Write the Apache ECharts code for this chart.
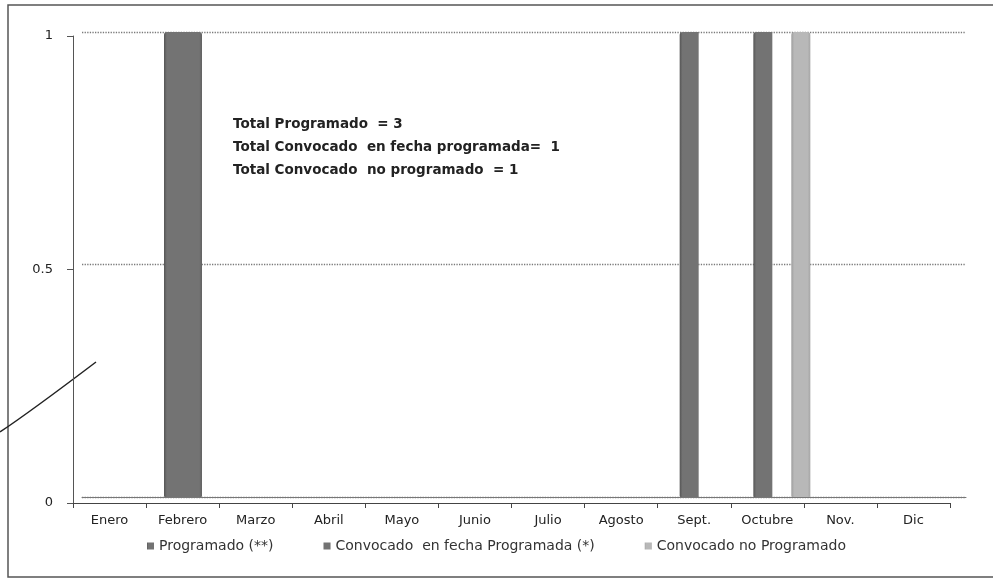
<!DOCTYPE html>
<html>
<head>
<meta charset="utf-8">
<script src="https://cdn.jsdelivr.net/npm/echarts@6/dist/echarts.min.js"></script>
<style>
    html, body { margin: 0; padding: 0; background: #fff; }
    #chart { width: 993px; height: 579px; }
</style>
</head>
<body>
<div id="chart"></div>
<script>
    // datos
    var meses = ['Enero', 'Febrero', 'Marzo', 'Abril', 'Mayo', 'Junio', 'Julio', 'Agosto', 'Sept.', 'Octubre', 'Nov.', 'Dic'];
    var programado = [0, 1, 0, 0, 0, 0, 0, 0, 1, 1, 0, 0];
    var convocadoFecha = [0, 1, 0, 0, 0, 0, 0, 0, 0, 0, 0, 0];
    var convocadoNo = [0, 0, 0, 0, 0, 0, 0, 0, 0, 1, 0, 0];
    var yTicks = [0, 0.5, 1];

    var nombres = ['Programado (**)', 'Convocado  en fecha Programada (*)', 'Convocado no Programado'];
    var totales = 'Total Programado  = 3\nTotal Convocado  en fecha programada=  1\nTotal Convocado  no programado  = 1';

    var myChart = echarts.init(document.getElementById('chart'));

    function barra(c1, c2, c3, radio) {
        return {
            color: new echarts.graphic.LinearGradient(0, 0, 1, 0, [
                { offset: 0, color: c1 },
                { offset: 0.15, color: c2 },
                { offset: 0.85, color: c2 },
                { offset: 1, color: c3 }
            ]),
            borderRadius: radio
        };
    }

    var option = {
        backgroundColor: '#fff',
        animation: false,
        grid: [
            // ejes frontales
            { left: 73, right: 43, top: 36, bottom: 76 },
            // pared del fondo y barras
            { left: 82, right: 27, top: 32, bottom: 82 }
        ],
        legend: {
            bottom: 21,
            left: 'center',
            icon: 'rect',
            itemWidth: 7,
            itemHeight: 7,
            itemGap: 50,
            textStyle: { fontFamily: 'DejaVu Sans', fontSize: 14, color: '#333' },
            data: nombres
        },
        xAxis: [
            {
                type: 'category',
                gridIndex: 0,
                data: meses,
                axisLine: { lineStyle: { color: '#444', width: 1 } },
                axisTick: { show: true, length: 5, lineStyle: { color: '#444' } },
                axisLabel: { margin: 11, fontFamily: 'DejaVu Sans', fontSize: 13, color: '#222' }
            },
            {
                type: 'category',
                gridIndex: 1,
                data: meses,
                axisLine: { lineStyle: { color: '#777', width: 1 } },
                axisTick: { show: false },
                axisLabel: { show: false }
            }
        ],
        yAxis: [
            {
                type: 'value',
                gridIndex: 0,
                min: 0,
                max: 1,
                interval: 0.5,
                axisLine: { show: true, lineStyle: { color: '#555' } },
                axisTick: { show: true, length: 6, lineStyle: { color: '#555' } },
                splitLine: { show: false },
                axisLabel: {
                    margin: 20,
                    fontFamily: 'DejaVu Sans',
                    fontSize: 13,
                    color: '#222',
                    formatter: function (v) { return yTicks.indexOf(v) >= 0 ? String(v) : ''; }
                }
            },
            {
                type: 'value',
                gridIndex: 1,
                min: 0,
                max: 1,
                interval: 0.5,
                axisLine: { show: false },
                axisTick: { show: false },
                axisLabel: { show: false },
                splitLine: { show: true, lineStyle: { color: '#7a7a7a', width: 1.3, type: 'dotted' } }
            }
        ],
        series: [
            {
                name: nombres[0],
                type: 'bar',
                xAxisIndex: 1,
                yAxisIndex: 1,
                barWidth: 19,
                barGap: '0%',
                itemStyle: barra('#555555', '#737373', '#737373', [3, 0, 0, 1]),
                data: programado
            },
            {
                name: nombres[1],
                type: 'bar',
                xAxisIndex: 1,
                yAxisIndex: 1,
                barWidth: 19,
                barGap: '0%',
                itemStyle: barra('#737373', '#737373', '#626262', [0, 3, 1, 0]),
                data: convocadoFecha
            },
            {
                name: nombres[2],
                type: 'bar',
                xAxisIndex: 1,
                yAxisIndex: 1,
                barWidth: 19,
                barGap: '0%',
                itemStyle: barra('#9c9c9c', '#b8b8b8', '#a6a6a6', [3, 3, 1, 1]),
                data: convocadoNo
            }
        ],
        graphic: [
            {
                type: 'rect',
                silent: true,
                shape: { x: 8, y: 5, width: 1000, height: 572 },
                style: { fill: null, stroke: '#555', lineWidth: 1.5 }
            },
            {
                type: 'bezierCurve',
                silent: true,
                shape: { x1: 0, y1: 432, x2: 96, y2: 362, cpx1: 30, cpy1: 412 },
                style: { stroke: '#222', lineWidth: 1.5, fill: null }
            },
            {
                type: 'text',
                left: 233,
                top: 113,
                silent: true,
                style: {
                    text: totales,
                    fontFamily: 'DejaVu Sans',
                    fontWeight: 'bold',
                    fontSize: 13.5,
                    lineHeight: 23,
                    fill: '#222'
                }
            }
        ]
    };

    myChart.setOption(option);
</script>
</body>
</html>
